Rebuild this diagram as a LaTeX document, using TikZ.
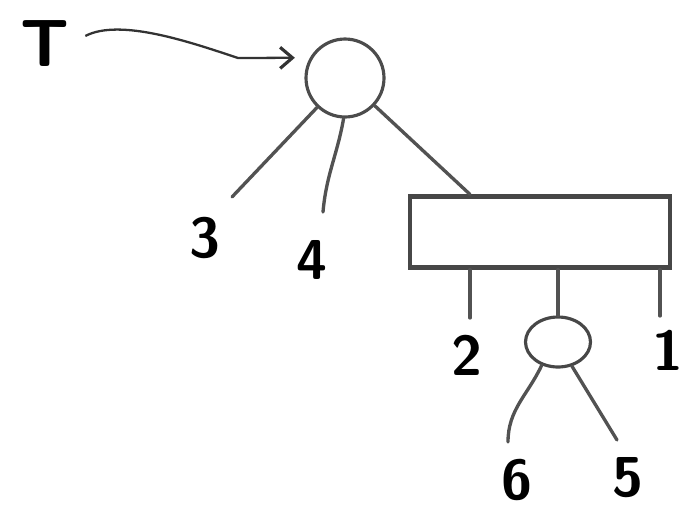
\documentclass[tikz,border=0pt]{standalone}
\usepackage{tikz}
\usetikzlibrary{arrows.meta,positioning,shapes.geometric}
\tikzset{
  rootnode/.style  = {circle, draw=black!70, line width=1.8pt, inner sep=0pt, minimum size=1.56cm},
  blocknode/.style = {rectangle, draw=black!72, line width=2.4pt, inner sep=0pt, minimum width=5.2cm, minimum height=1.42cm},
  knotnode/.style  = {ellipse, draw=black!72, line width=1.8pt, inner sep=0pt, minimum width=1.3cm, minimum height=1.0cm},
  wire/.style      = {black!68, line width=1.9pt, line cap=round},
  arrowwire/.style = {black!80, line width=1.3pt, -{Straight Barb[length=7pt,width=12pt,line width=1.8pt]}},
  numlabel/.style  = {font=\sffamily\bfseries\fontsize{32}{32}\selectfont, inner sep=0pt},
  bigletter/.style = {font=\sffamily\bfseries\fontsize{38}{38}\selectfont, inner sep=0pt}
}

\begin{document}
\begin{tikzpicture}[x=0.02cm, y=-0.02cm]
    \useasboundingbox (0,0) rectangle (686,508);
    % Nodes
    \node[bigletter] (T) at (45,44) {T};
    \node[rootnode] (root) at (345,78) {};
    \node[blocknode] (blk) at (540,232) {};
    \node[knotnode] (knot) at (558,342) {};
    % Free ends of the branches
    \coordinate (a3) at (232,197);
    \coordinate (a4) at (323,212);
    \coordinate (a2) at (470,318);
    \coordinate (a1) at (660,316);
    \coordinate (a6) at (508,442);
    \coordinate (a5) at (617,440);
    \coordinate (tp) at (470,0);
    % Leaf labels
    \node[numlabel] (l3) at (205,238) {3};
    \node[numlabel] (l4) at (312,260) {4};
    \node[numlabel] (l2) at (467,355) {2};
    \node[numlabel] (l1) at (668,350) {1};
    \node[numlabel] (l6) at (517,480) {6};
    \node[numlabel] (l5) at (628,478) {5};
    % Pointer
    \draw[arrowwire, shorten <=0.35cm, shorten >=0.3cm] (T.east) .. controls (120,18) and (190,42) .. (238,58) -- (root.150);
    % Branches of the root
    \draw[wire] (root) -- (a3);
    \draw[wire] (root.-92) to[out=-100,in=85] (a4);
    \draw[wire] (root) -- (blk.north -| tp);
    % Branches of the block
    \draw[wire] (blk.south -| a2) -- (a2);
    \draw[wire] (blk.south -| knot) -- (knot);
    \draw[wire] (blk.south -| a1) -- (a1);
    % Branches of the small node
    \draw[wire] (knot.235) to[out=-115,in=90] (a6);
    \draw[wire] (knot.-60) -- (a5);
  \end{tikzpicture}
\end{document}
